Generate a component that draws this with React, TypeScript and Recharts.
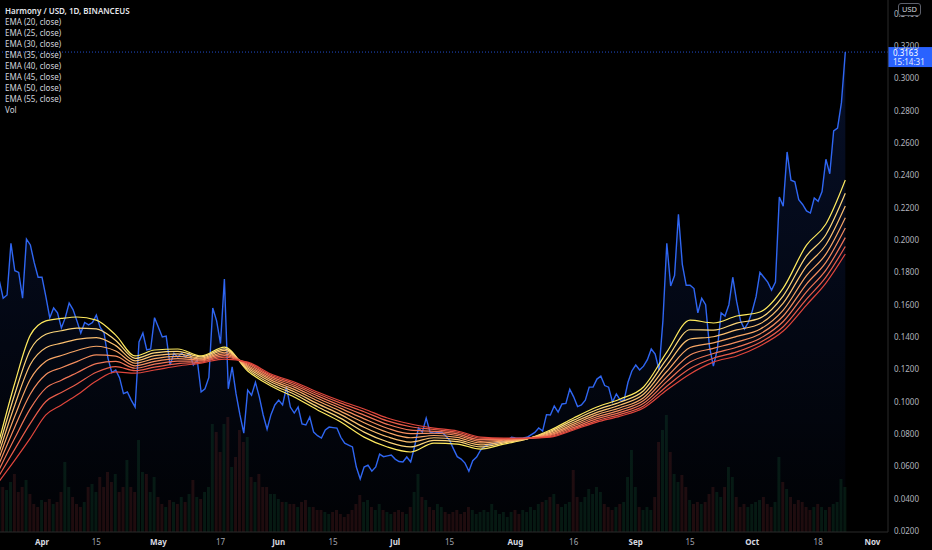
import { Area, Bar, Cell, ComposedChart, Line, ReferenceLine, XAxis, YAxis } from "recharts";

// day 0 = 21 Mar, one point per daily candle
const price = [
  0.175, 0.164, 0.166, 0.198, 0.181, 0.18, 0.164, 0.2006, 0.197, 0.186,
  0.177, 0.177, 0.165, 0.152, 0.158, 0.155, 0.1456, 0.152, 0.161, 0.157,
  0.15, 0.1425, 0.149, 0.1475, 0.149, 0.1536, 0.146, 0.1425, 0.127, 0.118,
  0.1196, 0.1147, 0.105, 0.106, 0.101, 0.0967, 0.137, 0.1425, 0.132, 0.1326,
  0.152, 0.146, 0.14, 0.1406, 0.1227, 0.13, 0.1276, 0.13, 0.1276, 0.13,
  0.1227, 0.1258, 0.106, 0.108, 0.115, 0.158, 0.15, 0.136, 0.1759, 0.108,
  0.1215, 0.105, 0.092, 0.0806, 0.1072, 0.104, 0.112, 0.103, 0.0918, 0.083,
  0.092, 0.098, 0.101, 0.098, 0.109, 0.0967, 0.093, 0.0967, 0.0862, 0.0856,
  0.0905, 0.0812, 0.079, 0.0775, 0.0825, 0.0843, 0.084, 0.0837, 0.078, 0.0744,
  0.0732, 0.072, 0.0596, 0.0522, 0.0596, 0.0608, 0.057, 0.0596, 0.0676, 0.066,
  0.0665, 0.067, 0.0645, 0.063, 0.0627, 0.0658, 0.0627, 0.072, 0.0837, 0.0812,
  0.0899, 0.0812, 0.0806, 0.081, 0.0812, 0.079, 0.0762, 0.071, 0.066, 0.0645,
  0.062, 0.057, 0.0635, 0.0658, 0.07, 0.0722, 0.0735, 0.074, 0.0745, 0.075,
  0.0755, 0.0763, 0.078, 0.0776, 0.0775, 0.0776, 0.078, 0.0795, 0.081, 0.0837,
  0.0818, 0.092, 0.0918, 0.0973, 0.0936, 0.0986, 0.099, 0.1078, 0.103, 0.097,
  0.098, 0.101, 0.109, 0.109, 0.114, 0.1158, 0.11, 0.109, 0.0998, 0.1048,
  0.101, 0.101, 0.112, 0.119, 0.1227, 0.1196, 0.122, 0.126, 0.1326, 0.1295,
  0.1196, 0.15, 0.198, 0.1716, 0.178, 0.216, 0.185, 0.172, 0.172, 0.17,
  0.155, 0.164, 0.16, 0.134, 0.122, 0.132, 0.155, 0.153, 0.16, 0.177,
  0.162, 0.15, 0.145, 0.149, 0.156, 0.165, 0.18, 0.177, 0.174, 0.169,
  0.174, 0.2266, 0.221, 0.2545, 0.237, 0.236, 0.225, 0.222, 0.218, 0.2167,
  0.226, 0.224, 0.23, 0.25, 0.241, 0.2675, 0.2693, 0.285, 0.3163,
];

// volume, millions
const volume = [
  45, 45, 42, 50, 58, 40, 45, 52, 38, 28,
  25, 32, 30, 33, 28, 30, 40, 70, 45, 35,
  28, 25, 30, 45, 48, 40, 55, 45, 60, 50,
  58, 40, 45, 72, 45, 40, 92, 60, 58, 40,
  55, 35, 28, 25, 32, 30, 28, 35, 30, 38,
  52, 35, 33, 40, 45, 108, 100, 80, 108, 115,
  65, 75, 102, 90, 95, 55, 50, 58, 45, 45,
  38, 38, 33, 30, 30, 28, 28, 25, 30, 32,
  25, 25, 22, 22, 20, 18, 20, 22, 18, 15,
  18, 22, 28, 37, 30, 32, 25, 22, 28, 22,
  20, 18, 20, 22, 20, 18, 25, 40, 58, 35,
  32, 25, 22, 28, 25, 20, 18, 20, 22, 18,
  20, 25, 22, 18, 20, 22, 20, 28, 22, 18,
  20, 15, 20, 22, 18, 22, 20, 25, 22, 28,
  30, 32, 35, 38, 28, 25, 28, 30, 62, 35,
  30, 35, 43, 38, 45, 40, 28, 25, 22, 25,
  28, 30, 55, 82, 45, 25, 22, 25, 22, 35,
  90, 102, 117, 80, 58, 50, 57, 45, 32, 28,
  30, 28, 30, 38, 45, 40, 35, 45, 65, 55,
  35, 25, 28, 25, 28, 30, 32, 35, 28, 25,
  30, 75, 50, 43, 35, 28, 32, 30, 25, 22,
  25, 28, 25, 22, 25, 28, 30, 53, 45,
];

// EMA values read at these days
const emaDays = [0, 4, 8, 12, 16, 20, 25, 30, 35, 40, 46, 52, 58, 64, 70, 76, 82, 88, 94, 100, 106, 112, 118, 124, 130, 136, 142, 148, 154, 160, 166, 172, 178, 184, 190, 196, 202, 208, 213, 218];

const ema20 = [0.0763, 0.1116, 0.1412, 0.15, 0.1515, 0.1524, 0.1505, 0.1412, 0.1283, 0.132, 0.1326, 0.1283, 0.1338, 0.119, 0.1097, 0.1029, 0.0949, 0.0874, 0.0781, 0.072, 0.0689, 0.0744, 0.0738, 0.0707, 0.0738, 0.0769, 0.0825, 0.0899, 0.0967, 0.1017, 0.1091, 0.1307, 0.1505, 0.1487, 0.153, 0.1555, 0.1703, 0.1969, 0.2099, 0.2371];
const ema25 = [0.0727, 0.1048, 0.1321, 0.1417, 0.1439, 0.1455, 0.1451, 0.1379, 0.1268, 0.1302, 0.1311, 0.1277, 0.1327, 0.12, 0.111, 0.1046, 0.0969, 0.0897, 0.0812, 0.0752, 0.072, 0.0761, 0.0753, 0.072, 0.0745, 0.077, 0.0817, 0.0886, 0.095, 0.0998, 0.1068, 0.1265, 0.1445, 0.1443, 0.1486, 0.1517, 0.1655, 0.1902, 0.2033, 0.2289];
const ema30 = [0.069, 0.098, 0.123, 0.1334, 0.1362, 0.1386, 0.1397, 0.1347, 0.1253, 0.1285, 0.1296, 0.127, 0.1317, 0.1209, 0.1123, 0.1062, 0.0988, 0.092, 0.0842, 0.0783, 0.075, 0.0777, 0.0766, 0.0733, 0.0751, 0.0771, 0.081, 0.0873, 0.0934, 0.098, 0.1046, 0.1225, 0.1388, 0.1402, 0.1444, 0.1482, 0.161, 0.1839, 0.1971, 0.2211];
const ema35 = [0.0654, 0.0911, 0.1139, 0.125, 0.1286, 0.1317, 0.1343, 0.1314, 0.1238, 0.1267, 0.1281, 0.1264, 0.1306, 0.1218, 0.1135, 0.1076, 0.1006, 0.094, 0.087, 0.0811, 0.0777, 0.0791, 0.0779, 0.0745, 0.0757, 0.0772, 0.0803, 0.0861, 0.092, 0.0963, 0.1025, 0.1187, 0.1335, 0.1364, 0.1404, 0.1448, 0.1567, 0.178, 0.1913, 0.2138];
const ema40 = [0.0618, 0.0844, 0.1048, 0.1168, 0.121, 0.1248, 0.129, 0.1282, 0.1222, 0.1249, 0.1266, 0.1258, 0.1296, 0.1226, 0.1145, 0.109, 0.1021, 0.0959, 0.0894, 0.0836, 0.0802, 0.0805, 0.0791, 0.0755, 0.0762, 0.0773, 0.0796, 0.0851, 0.0907, 0.0948, 0.1007, 0.1154, 0.1289, 0.133, 0.1369, 0.1419, 0.153, 0.1728, 0.1862, 0.2074];
const ema45 = [0.0582, 0.0775, 0.0957, 0.1084, 0.1133, 0.1179, 0.1236, 0.1249, 0.1207, 0.1232, 0.1251, 0.1252, 0.1285, 0.1233, 0.1155, 0.1102, 0.1036, 0.0975, 0.0917, 0.086, 0.0824, 0.0817, 0.0801, 0.0765, 0.0767, 0.0774, 0.0791, 0.0841, 0.0895, 0.0934, 0.099, 0.1124, 0.1245, 0.1298, 0.1337, 0.1391, 0.1496, 0.168, 0.1814, 0.2015];
const ema50 = [0.0545, 0.0707, 0.0866, 0.1001, 0.1057, 0.111, 0.1182, 0.1217, 0.1192, 0.1214, 0.1236, 0.1245, 0.1275, 0.124, 0.1164, 0.1113, 0.1049, 0.0991, 0.0938, 0.0881, 0.0845, 0.0828, 0.0811, 0.0774, 0.0771, 0.0774, 0.0785, 0.0832, 0.0883, 0.0922, 0.0974, 0.1096, 0.1205, 0.1269, 0.1308, 0.1366, 0.1464, 0.1635, 0.1771, 0.196];
const ema55 = [0.0509, 0.0639, 0.0775, 0.0918, 0.098, 0.1041, 0.1128, 0.1184, 0.1177, 0.1196, 0.1221, 0.1239, 0.1264, 0.1245, 0.1171, 0.1122, 0.106, 0.1004, 0.0955, 0.0899, 0.0862, 0.0837, 0.0819, 0.0781, 0.0775, 0.0775, 0.0781, 0.0825, 0.0874, 0.0911, 0.0961, 0.1072, 0.1172, 0.1245, 0.1283, 0.1345, 0.1437, 0.1598, 0.1734, 0.1914];

const emaSeries = [
  { key: "e20", name: "EMA (20, close)", values: ema20, color: "#ffea5e" },
  { key: "e25", name: "EMA (25, close)", values: ema25, color: "#fdd67a" },
  { key: "e30", name: "EMA (30, close)", values: ema30, color: "#fbbf6f" },
  { key: "e35", name: "EMA (35, close)", values: ema35, color: "#f8a666" },
  { key: "e40", name: "EMA (40, close)", values: ema40, color: "#f48d5e" },
  { key: "e45", name: "EMA (45, close)", values: ema45, color: "#ef7556" },
  { key: "e50", name: "EMA (50, close)", values: ema50, color: "#e95d4a" },
  { key: "e55", name: "EMA (55, close)", values: ema55, color: "#e0463c" },
];

const tickDays = [11, 25, 41, 57, 72, 86, 102, 116, 133, 148, 164, 178, 194, 211, 225];
const tickLabels = ["Apr", "15", "May", "17", "Jun", "15", "Jul", "15", "Aug", "16", "Sep", "15", "Oct", "18", "Nov"];
const priceTicks = [0.02, 0.04, 0.06, 0.08, 0.1, 0.12, 0.14, 0.16, 0.18, 0.2, 0.22, 0.24, 0.26, 0.28, 0.3, 0.32, 0.34];

const FONT = "'Noto Sans', 'DejaVu Sans', sans-serif";

const rows = price.map((p, d) => {
  const k = emaDays.indexOf(d);
  const row: Record<string, number | boolean | null> = {
    d,
    price: p,
    vol: volume[d],
    up: d === 0 || p >= price[d - 1],
  };
  emaSeries.forEach((s) => {
    row[s.key] = k >= 0 ? s.values[k] : null;
  });
  return row;
});

const lastPrice = price[price.length - 1];

function DayTick({ x, y, payload }: any) {
  const label = tickLabels[tickDays.indexOf(payload.value)] ?? "";
  const isMonth = isNaN(Number(label));
  return (
    <text
      x={x}
      y={y}
      dy={11}
      textAnchor="middle"
      fill={isMonth ? "#d8dae0" : "#a3a6af"}
      fontSize={8}
      fontWeight={isMonth ? 700 : 400}
      fontFamily={FONT}
    >
      {label}
    </text>
  );
}

function PriceTag({ viewBox }: any) {
  const x = (viewBox?.x ?? 0) + (viewBox?.width ?? 0);
  const y = viewBox?.y ?? 0;
  return (
    <g>
      <rect x={x} y={y - 5} width={44} height={20} fill="#2962ff" />
      <text x={x + 5} y={y + 4} fill="#ffffff" fontSize={8} fontFamily={FONT}>
        {lastPrice.toFixed(4)}
      </text>
      <text x={x + 5} y={y + 13} fill="#e6ecff" fontSize={8} fontFamily={FONT}>
        15:14:31
      </text>
    </g>
  );
}

export default function App() {
  return (
    <div style={{ position: "relative", width: 932, height: 550, background: "#000" }}>
      <style>{"body{margin:0;background:#000}"}</style>
      <ComposedChart width={932} height={550} data={rows} margin={{ top: 0, right: 0, left: 0, bottom: 0 }}>
        <defs>
          <linearGradient id="priceFill" x1="0" y1="0" x2="0" y2="1">
            <stop offset="0%" stopColor="#2962ff" stopOpacity={0.26} />
            <stop offset="100%" stopColor="#2962ff" stopOpacity={0.03} />
          </linearGradient>
        </defs>
        <XAxis
          dataKey="d"
          type="number"
          domain={[0.18, 229]}
          allowDataOverflow
          ticks={tickDays}
          tick={<DayTick />}
          tickLine={false}
          tickSize={0}
          tickMargin={2}
          height={18}
          axisLine={{ stroke: "#2b2b2b" }}
          interval={0}
        />
        <YAxis
          yAxisId="price"
          orientation="right"
          domain={[0.0194, 0.3485]}
          allowDataOverflow
          ticks={priceTicks}
          interval={0}
          width={44}
          tickLine={false}
          tickSize={0}
          tickMargin={6}
          axisLine={{ stroke: "#2b2b2b" }}
          tick={{ fill: "#b2b5be", fontSize: 8, fontFamily: FONT, textAnchor: "start" }}
          tickFormatter={(v: number) => v.toFixed(4)}
        />
        <YAxis yAxisId="vol" hide domain={[0, 532]} />
        <Area
          yAxisId="price"
          type="linear"
          dataKey="price"
          stroke="none"
          fill="url(#priceFill)"
          isAnimationActive={false}
        />
        <Bar yAxisId="vol" dataKey="vol" barSize={3} isAnimationActive={false}>
          {rows.map((r, i) => (
            <Cell key={i} fill={r.up ? "#2bbd6a" : "#ef5350"} fillOpacity={0.13} />
          ))}
        </Bar>
        <Line
          yAxisId="price"
          type="linear"
          dataKey="price"
          stroke="#2f66f2"
          strokeWidth={1.4}
          dot={false}
          isAnimationActive={false}
        />
        {emaSeries.map((s) => (
          <Line
            key={s.key}
            yAxisId="price"
            type="monotone"
            dataKey={s.key}
            stroke={s.color}
            strokeWidth={1.2}
            dot={false}
            connectNulls
            isAnimationActive={false}
          />
        ))}
        <ReferenceLine
          yAxisId="price"
          y={lastPrice}
          stroke="#2962ff"
          strokeOpacity={0.8}
          strokeDasharray="1 2"
          label={<PriceTag />}
        />
      </ComposedChart>
      <div
        style={{
          position: "absolute",
          left: 5,
          top: 5,
          fontFamily: FONT,
          fontSize: 8,
          lineHeight: "11px",
          color: "#d1d4dc",
        }}
      >
        <div style={{ fontWeight: 600, color: "#e4e6eb" }}>Harmony / USD, 1D, BINANCEUS</div>
        {emaSeries.map((s) => (
          <div key={s.key}>{s.name}</div>
        ))}
        <div>Vol</div>
      </div>
      <div
        style={{
          position: "absolute",
          left: 898,
          top: 3,
          padding: "0 3px",
          height: 11,
          lineHeight: "11px",
          border: "1px solid #5d606b",
          borderRadius: 3,
          background: "#000",
          color: "#d1d4dc",
          fontFamily: FONT,
          fontSize: 7.5,
        }}
      >
        USD
      </div>
    </div>
  );
}
